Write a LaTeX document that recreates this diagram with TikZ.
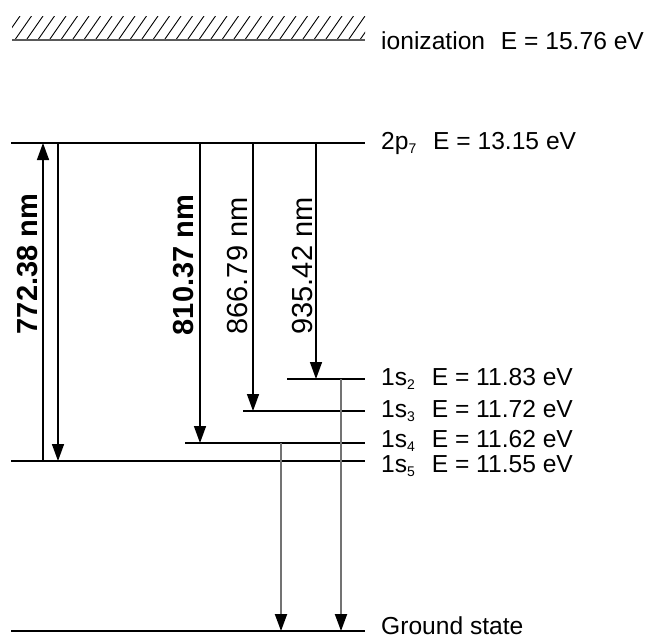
\documentclass[tikz,border=0pt]{standalone}
\usepackage{fontspec}
\setmainfont{Liberation Sans}
\usetikzlibrary{arrows.meta}
\newcommand{\lsub}[1]{\raisebox{-4pt}{\fontsize{14}{14}\selectfont #1}}
\begin{document}
\begin{tikzpicture}[x=1pt,y=-1pt,
  level/.style={line width=1.5pt,black},
  trans/.style={line width=1.5pt,black,-{Triangle[length=17pt,width=12pt]}},
  grtrans/.style={line width=2pt,gray!90!black,-{Triangle[length=17pt,width=12pt,color=black]}},
  lbl/.style={anchor=west,inner sep=0pt,font=\fontsize{24.6}{28}\selectfont},
  wl/.style={rotate=90,anchor=base,inner sep=0pt,font=\fontsize{29}{33}\selectfont},
  wlb/.style={wl,font=\fontsize{29}{33}\selectfont\bfseries}]
\useasboundingbox (0,0) rectangle (646,637);
% hatching of ionization continuum
\begin{scope}
  \clip (12,16) rectangle (365,39);
  \foreach \i in {0,...,31} {
    \draw[line width=0.9pt] ({4+\i*11.5},39) -- ({4+\i*11.5+16},16);
  }
\end{scope}
\coordinate (ionL) at (12,39.5);
\coordinate (ionR) at (365,39.5);
\draw[line width=2pt,gray!70!black] (ionL) -- (ionR);
% levels
\coordinate (pL) at (11,143); \coordinate (pR) at (365,143);
\coordinate (s2L) at (287,379); \coordinate (s2R) at (365,379);
\coordinate (s3L) at (243,411); \coordinate (s3R) at (365,411);
\coordinate (s4L) at (185,443); \coordinate (s4R) at (365,443);
\coordinate (s5L) at (11,461); \coordinate (s5R) at (365,461);
\coordinate (gL) at (11,631); \coordinate (gR) at (365,631);
\foreach \a/\b in {pL/pR,s2L/s2R,s3L/s3R,s4L/s4R,s5L/s5R,gL/gR}
  \draw[level] (\a) -- (\b);
% labels
\node[lbl] (tion) at (381,41) {ionization\hspace{9pt} E = 15.76 eV};
\node[lbl] (tp) at (381,143) {2p\lsub{7}\hspace{10pt} E = 13.15 eV};
\node[lbl] (ts2) at (381,379) {1s\lsub{2}\hspace{10pt} E = 11.83 eV};
\node[lbl] (ts3) at (381,411) {1s\lsub{3}\hspace{10pt} E = 11.72 eV};
\node[lbl] (ts4) at (381,441) {1s\lsub{4}\hspace{10pt} E = 11.62 eV};
\node[lbl] (ts5) at (381,466) {1s\lsub{5}\hspace{10pt} E = 11.55 eV};
\node[lbl] (tg) at (381,625.5) {Ground state};
% transitions
\coordinate (a1s) at (43,461); \coordinate (a1e) at (43,143);
\coordinate (a2s) at (58,143); \coordinate (a2e) at (58,461);
\coordinate (a3s) at (200,143); \coordinate (a3e) at (200,443);
\coordinate (a4s) at (253,143); \coordinate (a4e) at (253,411);
\coordinate (a5s) at (316,143); \coordinate (a5e) at (316,379);
\coordinate (g1s) at (281,443); \coordinate (g1e) at (281,631);
\coordinate (g2s) at (341,379); \coordinate (g2e) at (341,631);
\draw[trans] (a1s) -- (a1e);
\draw[trans] (a2s) -- (a2e);
\draw[trans] (a3s) -- (a3e);
\draw[trans] (a4s) -- (a4e);
\draw[trans] (a5s) -- (a5e);
\draw[grtrans] (g1s) -- (g1e);
\draw[grtrans] (g2s) -- (g2e);
% wavelength labels
\node[wlb] (w1) at (37,264) {772.38 nm};
\node[wlb] (w2) at (193,265) {810.37 nm};
\node[wl] (w3) at (247,266) {866.79 nm};
\node[wl] (w4) at (312,266) {935.42 nm};
\end{tikzpicture}
\end{document}
